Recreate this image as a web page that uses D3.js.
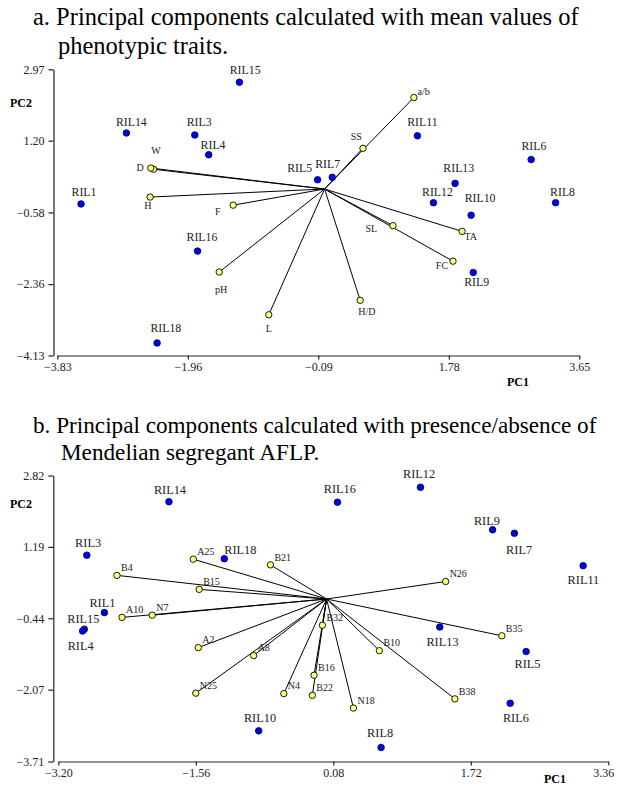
<!DOCTYPE html>
<html>
<head>
<meta charset="utf-8">
<script src="https://cdn.jsdelivr.net/npm/d3@7"></script>
<style>
  body { margin: 0; background: #fff; }
  text { font-family: "Liberation Serif", "Times New Roman", serif; }
</style>
</head>
<body>
<div id="chart"></div>
<script>
var w = 617;
var h = 786;

// ---- panel a: mean values of phenotypic traits ----
var rilNamesA = ["RIL1", "RIL3", "RIL4", "RIL5", "RIL6", "RIL7", "RIL8", "RIL9",
  "RIL10", "RIL11", "RIL12", "RIL13", "RIL14", "RIL15", "RIL16", "RIL18"];
var rilPC1A = [-3.49, -1.86, -1.66, -0.10, 2.96, 0.11, 3.31, 2.13,
  2.10, 1.33, 1.56, 1.87, -2.84, -1.22, -1.82, -2.40];
var rilPC2A = [-0.37, 1.34, 0.85, 0.23, 0.73, 0.29, -0.34, -2.07,
  -0.65, 1.32, -0.34, 0.14, 1.39, 2.65, -1.54, -3.82];

var traitNamesA = ["W", "D", "H", "F", "pH", "L", "H/D", "SL", "FC", "TA", "SS", "a/b"];
var traitPC1A = [-2.45, -2.49, -2.50, -1.31, -1.51, -0.80, 0.51, 0.98, 1.84, 1.97, 0.55, 1.28];
var traitPC2A = [0.49, 0.52, -0.20, -0.40, -2.06, -3.12, -2.76, -0.91, -1.79, -1.05, 1.01, 2.27];

var xTicksA = [-3.83, -1.96, -0.09, 1.78, 3.65];
var yTicksA = [-4.13, -2.36, -0.58, 1.20, 2.97];

// ---- panel b: presence/absence of Mendelian segregant AFLP ----
var rilNamesB = ["RIL14", "RIL3", "RIL18", "RIL16", "RIL12", "RIL9", "RIL7", "RIL11",
  "RIL1", "RIL15", "RIL4", "RIL10", "RIL13", "RIL5", "RIL6", "RIL8"];
var rilPC1B = [-1.88, -2.86, -1.22, 0.13, 1.12, 1.98, 2.24, 3.06,
  -2.65, -2.89, -2.91, -0.81, 1.35, 2.38, 2.19, 0.65];
var rilPC2B = [2.22, 1.00, 0.92, 2.21, 2.55, 1.58, 1.50, 0.76,
  -0.31, -0.69, -0.73, -3.01, -0.64, -1.20, -2.38, -3.39];

var markerNamesB = ["A25", "B21", "B4", "B15", "N26", "A10", "N7", "A2", "A8", "N25",
  "N4", "B32", "B10", "B16", "B22", "N18", "B38", "B35"];
var markerPC1B = [-1.59, -0.67, -2.50, -1.52, 1.42, -2.44, -2.08, -1.53, -0.87, -1.56,
  -0.51, -0.05, 0.63, -0.15, -0.17, 0.32, 1.53, 2.09];
var markerPC2B = [0.91, 0.78, 0.54, 0.22, 0.40, -0.42, -0.37, -1.11, -1.29, -2.15,
  -2.16, -0.60, -1.18, -1.74, -2.20, -2.49, -2.28, -0.84];

var xTicksB = [-3.20, -1.56, 0.08, 1.72, 3.36];
var yTicksB = [-3.71, -2.07, -0.44, 1.19, 2.82];

// label offsets (label centre relative to the point)
var labelOffA = {
  RIL1: [3, -12], RIL3: [4.3, -12.7], RIL4: [4.3, -9.7], RIL5: [-18, -12], RIL6: [2.7, -14],
  RIL7: [-4.6, -13.3], RIL8: [7, -11.3], RIL9: [3.4, 9.7], RIL10: [9, -17.3], RIL11: [5, -13.7],
  RIL12: [4, -11.3], RIL13: [3.7, -15.3], RIL14: [5, -11], RIL15: [5.7, -12.3], RIL16: [4.4, -14],
  RIL18: [8.7, -15],
  W: [2.3, -18.3], D: [-10.7, -0.7], H: [-2.3, 8], F: [-15.3, 6], pH: [2, 17.3], L: [0, 13.4],
  "H/D": [6.7, 11.7], SL: [-21.6, 2.4], TA: [8.7, 4.7], FC: [-11, 4.7], SS: [-6.7, -11.6],
  "a/b": [9.7, -6.3]
};
var labelOffB = {
  RIL14: [1, -12.4], RIL3: [1.3, -12.3], RIL18: [16, -8.7], RIL16: [2.3, -13.3], RIL12: [-1.4, -13.3],
  RIL9: [-5.7, -9], RIL7: [4.7, 16], RIL11: [0.3, 14.3], RIL1: [-2, -10], RIL15: [-1, -10.3],
  RIL4: [-2, 14.7], RIL10: [1.3, -13.3], RIL13: [2.7, 15], RIL5: [1.3, 12.3], RIL6: [5.7, 14],
  RIL8: [-1, -14.4]
};

var svg = d3.select("#chart").append("svg")
  .attr("width", w)
  .attr("height", h)
  .attr("font-family", "'Liberation Serif', 'Times New Roman', serif")
  .style("display", "block");

function zip(names, xs, ys) {
  return names.map(function (n, i) { return { name: n, x: xs[i], y: ys[i] }; });
}

function drawPanel(opt) {
  var g = svg.append("g");

  var x = d3.scaleLinear().domain(d3.extent(opt.xTicks)).range(opt.xRange);
  var y = d3.scaleLinear().domain(d3.extent(opt.yTicks)).range(opt.yRange);
  var fmt = d3.format(".2f");

  // title
  var title = g.append("text")
    .attr("font-size", opt.titleSize)
    .attr("fill", "#000");
  title.append("tspan").attr("x", 33).attr("y", opt.titleY).text(opt.title[0]);
  title.append("tspan").attr("x", opt.indent).attr("y", opt.titleY + opt.titleSize * 1.17).text(opt.title[1]);

  // axes
  var yAxis = g.append("g")
    .attr("transform", "translate(" + opt.yAxisX + ",0)")
    .call(d3.axisLeft(y).tickValues(opt.yTicks).tickFormat(fmt).tickSize(5).tickSizeOuter(0).tickPadding(4));
  var xAxis = g.append("g")
    .attr("transform", "translate(0," + opt.yRange[0] + ")")
    .call(d3.axisBottom(x).tickValues(opt.xTicks).tickFormat(fmt).tickSize(4).tickSizeOuter(0).tickPadding(3));
  [xAxis, yAxis].forEach(function (a) {
    a.attr("font-family", null);
    a.selectAll("text")
      .attr("font-size", 12)
      .attr("fill", "#222");
    a.select(".domain").attr("stroke", "#222").attr("stroke-width", 1.2);
    a.selectAll(".tick line").attr("stroke", "#222").attr("stroke-width", 1.2);
  });
  if (opt.lastTickShift) {
    xAxis.selectAll(".tick text").filter(function (d, i, n) { return i === n.length - 1; })
      .attr("dx", opt.lastTickShift);
  }

  g.append("text")
    .attr("x", 10).attr("y", opt.pc2Y)
    .attr("font-size", 12).attr("font-weight", "bold")
    .text("PC2");
  g.append("text")
    .attr("x", opt.pc1[0]).attr("y", opt.pc1[1])
    .attr("text-anchor", "middle")
    .attr("font-size", 12).attr("font-weight", "bold")
    .text("PC1");

  // loading vectors from origin
  g.selectAll("line.vec")
    .data(opt.vectors)
    .join("line")
    .attr("class", "vec")
    .attr("x1", x(0)).attr("y1", y(0))
    .attr("x2", function (d) { return x(d.x); })
    .attr("y2", function (d) { return y(d.y); })
    .attr("stroke", "#000")
    .attr("stroke-width", 1);

  // RIL points
  g.selectAll("circle.ril")
    .data(opt.points)
    .join("circle")
    .attr("class", "ril")
    .attr("cx", function (d) { return x(d.x); })
    .attr("cy", function (d) { return y(d.y); })
    .attr("r", 3.3)
    .attr("fill", "#0000ee")
    .attr("stroke", "#000040")
    .attr("stroke-width", 0.8);

  g.selectAll("circle.vec")
    .data(opt.vectors)
    .join("circle")
    .attr("class", "vec")
    .attr("cx", function (d) { return x(d.x); })
    .attr("cy", function (d) { return y(d.y); })
    .attr("r", 3.2)
    .attr("fill", "#ffff80")
    .attr("stroke", "#000")
    .attr("stroke-width", 0.9);

  g.selectAll("text.ril")
    .data(opt.points)
    .join("text")
    .attr("class", "ril")
    .attr("x", function (d) { return x(d.x) + opt.offs[d.name][0]; })
    .attr("y", function (d) { return y(d.y) + opt.offs[d.name][1]; })
    .attr("dy", "0.35em")
    .attr("text-anchor", "middle")
    .attr("font-size", opt.rilSize)
    .attr("fill", "#222")
    .text(function (d) { return d.name; });

  g.selectAll("text.vec")
    .data(opt.vectors)
    .join("text")
    .attr("class", "vec")
    .attr("x", function (d) {
      return opt.vecOffs ? x(d.x) + opt.vecOffs[d.name][0] : x(d.x) + 4;
    })
    .attr("y", function (d) {
      return opt.vecOffs ? y(d.y) + opt.vecOffs[d.name][1] : y(d.y) - 7.7;
    })
    .attr("dy", "0.35em")
    .attr("text-anchor", opt.vecOffs ? "middle" : "start")
    .attr("font-size", 10)
    .attr("fill", "#222")
    .text(function (d) { return d.name; });
}

drawPanel({
  title: ["a. Principal components calculated with mean values of", "phenotypic traits."],
  titleY: 25, titleSize: 24.5, indent: 58,
  xTicks: xTicksA, yTicks: yTicksA,
  xRange: [57.3, 579.3], yRange: [355.5, 69.3], yAxisX: 53.5,
  pc2Y: 107, pc1: [518, 386], rilSize: 11.8,
  points: zip(rilNamesA, rilPC1A, rilPC2A),
  vectors: zip(traitNamesA, traitPC1A, traitPC2A),
  offs: labelOffA, vecOffs: labelOffA
});

drawPanel({
  title: ["b. Principal components calculated with presence/absence of", "Mendelian segregant AFLP."],
  titleY: 433, titleSize: 23.2, indent: 61,
  xTicks: xTicksB, yTicks: yTicksB,
  xRange: [58.3, 608.3], yRange: [761.5, 475.5], yAxisX: 53.3,
  pc2Y: 508, pc1: [555, 783], lastTickShift: -5, rilSize: 12.3,
  points: zip(rilNamesB, rilPC1B, rilPC2B),
  vectors: zip(markerNamesB, markerPC1B, markerPC2B),
  offs: labelOffB, vecOffs: null
});
</script>
</body>
</html>
